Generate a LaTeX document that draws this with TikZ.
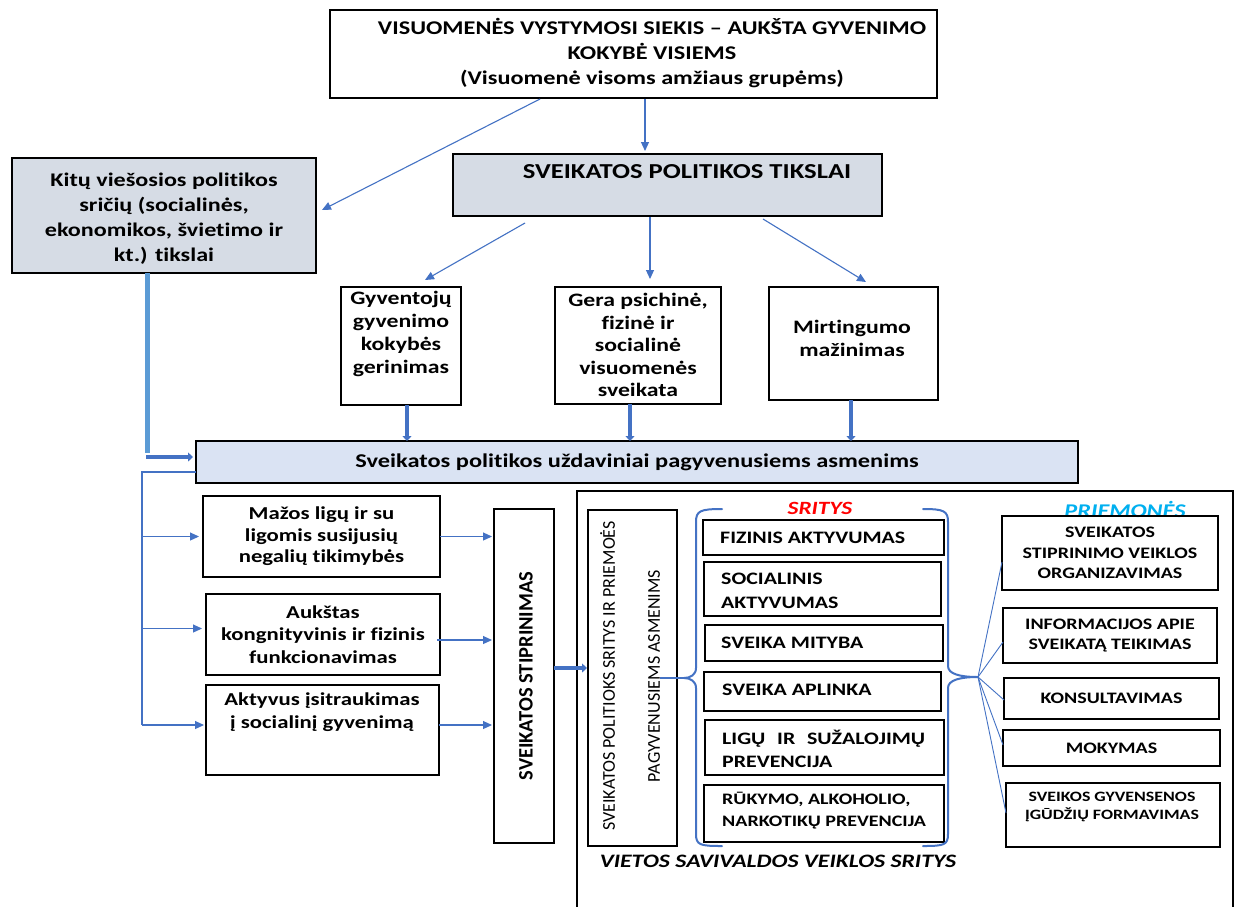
\documentclass[tikz,border=0pt]{standalone}
\usepackage{fontspec}
\setmainfont{Carlito}[Ligatures=NoCommon]
\newfontfamily\wfont{Carlito}[FakeStretch=1.25,Ligatures=NoCommon]
\newfontfamily\nfont{Carlito}[Ligatures=NoCommon]
\usetikzlibrary{arrows.meta}
\definecolor{lineblue}{HTML}{4472C4}
\definecolor{lightline}{HTML}{5B9BD5}
\definecolor{grayfill}{HTML}{D6DCE5}
\definecolor{barfill}{HTML}{DAE3F3}
\definecolor{cyanlabel}{HTML}{00B0F0}
% box given by its corners: [options]{name}{x1}{y1}{x2}{y2}{text}
\newcommand\bx[7][]{\node[box,minimum width={(#5-#3)*1pt},minimum height={(#6-#4)*1pt},#1] (#2) at (#3,#4) {#7};}
\begin{document}
\begin{tikzpicture}[x=1pt,y=-1pt,
  box/.style={draw=black,line width=1.3pt,anchor=north west,inner sep=0pt,outer sep=0pt,align=center},
  tx/.style={align=center,inner sep=0pt},
  fs/.style 2 args={font=\wfont\bfseries\fontsize{#1}{#2}\selectfont},
  thin/.style={draw=lineblue,line width=1.1pt},
  thinarr/.style={thin,-{Triangle[length=9pt,width=8pt]}},
  thickarr/.style={draw=lineblue,line width=4.5pt,-{Triangle[length=5pt,width=9pt]}},
  brace/.style={draw=lineblue,line width=2pt,line cap=round,line join=round}]
\fill[white] (0,0) rectangle (1241,906);
\useasboundingbox (0,0) rectangle (1241,906);

% ---------- top level ----------
\bx[line width=1.5pt]{top}{330}{10}{937}{98}{}
\node[tx,fs={19.4}{25}] (toptxt) at (652,53) {VISUOMENĖS VYSTYMOSI SIEKIS – AUKŠTA GYVENIMO\\KOKYBĖ VISIEMS\\(Visuomenė visoms amžiaus grupėms)};

\bx[fill=grayfill]{kit}{12}{158}{316}{273}{}
\node[tx,fs={19.3}{25}] (kittxt) at (164,219) {Kitų viešosios politikos\\sričių (socialinės,\\ekonomikos, švietimo ir\\kt.) tikslai};

\bx[fill=grayfill]{spt}{453}{154}{882}{216}{}
\node[tx,fs={21.3}{26}] (spttxt) at (687,172) {SVEIKATOS POLITIKOS TIKSLAI};

% ---------- goals ----------
\bx{g1}{341}{287}{461}{405}{}
\node[tx,fs={19}{23}] (g1txt) at (401,334) {Gyventojų\\gyvenimo\\kokybės\\gerinimas};
\bx{g2}{555}{287}{721}{404}{}
\node[tx,fs={19}{22.5}] (g2txt) at (638,345) {Gera psichinė,\\fizinė ir\\socialinė\\visuomenės\\sveikata};
\bx{g3}{769}{287}{938}{400}{}
\node[tx,fs={19}{23}] (g3txt) at (852,338) {Mirtingumo\\mažinimas};

\bx[fill=barfill,fs={19.5}{24}]{bar}{196}{441}{1078}{483}{Sveikatos politikos uždaviniai pagyvenusiems asmenims}

% ---------- tasks ----------
\bx[fs={18.2}{21.5}]{m1}{203}{496}{440}{577}{Mažos ligų ir su\\ligomis susijusių\\negalių tikimybės}
\bx[fs={18.2}{22.5}]{a2}{206}{594}{440}{675}{Aukštas\\kongnityvinis ir fizinis\\funkcionavimas}
\bx{a3}{206}{685}{439}{775}{}
\node[tx,fs={18.2}{23}] (a3txt) at (322,712) {Aktyvus įsitraukimas\\į socialinį gyvenimą};

\bx{ss}{494}{509}{554}{843}{}
\node[tx,rotate=90,font=\nfont\bfseries\fontsize{20.5}{24}\selectfont] (sstxt) at (526,676) {SVEIKATOS STIPRINIMAS};

% ---------- municipal areas ----------
\bx{outer}{577}{491}{1233}{912}{}
\bx{inner}{588}{510}{677}{846}{}
\node[tx,rotate=90,font=\nfont\fontsize{18}{45}\selectfont] (innertxt) at (630,676) {SVEIKATOS POLITIOKS SRITYS IR PRIEMOĖS\\PAGYVENUSIEMS ASMENIMS};

\node[font=\wfont\bfseries\itshape\fontsize{18.7}{22}\selectfont,text=red,inner sep=0pt] (srit) at (820,508) {SRITYS};
\node[font=\wfont\bfseries\itshape\fontsize{19.4}{22}\selectfont,text=cyanlabel,inner sep=0pt] (priem) at (1125,509) {PRIEMONĖS};
\node[font=\wfont\bfseries\itshape\fontsize{19}{22}\selectfont,inner sep=0pt] (viet) at (778,861) {VIETOS SAVIVALDOS VEIKLOS SRITYS};

\bx{s1}{703}{520}{944}{555}{}
\bx{s2}{704}{562}{941}{616}{}
\bx{s3}{705}{625}{943}{661}{}
\bx{s4}{704}{672}{941}{711}{}
\bx{s5}{705}{720}{944}{775}{}
\bx{s6}{704}{785}{944}{842}{}
\node[anchor=west,align=left,inner sep=0pt,fs={17.5}{24}] (s1txt) at (720,538) {FIZINIS AKTYVUMAS};
\node[anchor=west,align=left,inner sep=0pt,fs={17.5}{24}] (s2txt) at (721,591) {SOCIALINIS\\AKTYVUMAS};
\node[anchor=west,align=left,inner sep=0pt,fs={17.5}{24}] (s3txt) at (721,643) {SVEIKA MITYBA};
\node[anchor=west,align=left,inner sep=0pt,fs={17.5}{24}] (s4txt) at (722,690) {SVEIKA APLINKA};
\node[anchor=west,align=left,inner sep=0pt,fs={17.5}{23}] (s5txt) at (722,749) {\makebox[203pt][s]{LIGŲ IR SUŽALOJIMŲ}\\PREVENCIJA};
\node[anchor=west,align=left,inner sep=0pt,fs={16}{22}] (s6txt) at (722,811) {RŪKYMO, ALKOHOLIO,\\NARKOTIKŲ PREVENCIJA};

\bx[fs={16}{20.5}]{p1}{1002}{516}{1218}{590}{SVEIKATOS\\STIPRINIMO VEIKLOS\\ORGANIZAVIMAS}
\bx[fs={16}{20}]{p2}{1003}{608}{1217}{663}{INFORMACIJOS APIE\\SVEIKATĄ TEIKIMAS}
\bx[fs={16}{20}]{p3}{1004}{678}{1219}{719}{KONSULTAVIMAS}
\bx[fs={16}{20}]{p4}{1003}{730}{1220}{766}{MOKYMAS}
\bx{p5}{1006}{783}{1220}{847}{}
\node[tx,fs={14.3}{18.5}] (p5txt) at (1112,807) {SVEIKOS GYVENSENOS\\ĮGŪDŽIŲ FORMAVIMAS};

% ---------- connectors ----------
\draw[thinarr] ([xshift=11.5pt,yshift=-1pt]top.south) -- ([xshift=-22.5pt,yshift=3pt]spt.north);
\draw[thinarr] ([xshift=-93.5pt,yshift=-1pt]top.south) -- ([xshift=6pt,yshift=5.5pt]kit.east);

\draw[thinarr] ([xshift=-142.5pt,yshift=-7pt]spt.south) -- ([xshift=24pt,yshift=7pt]g1.north);
\draw[thinarr] ([xshift=-17.5pt,yshift=-1pt]spt.south) -- ([xshift=12pt,yshift=8pt]g2.north);
\draw[thinarr] ([xshift=95.5pt,yshift=-3pt]spt.south) -- ([xshift=12.5pt,yshift=5pt]g3.north);

\draw[thickarr] ([xshift=6pt]g1.south) -- ([xshift=6pt]g1.south |- bar.north);
\draw[thickarr] ([xshift=-8pt]g2.south) -- ([xshift=-8pt]g2.south |- bar.north);
\draw[thickarr] ([xshift=-2.5pt]g3.south) -- ([xshift=-2.5pt]g3.south |- bar.north);

\coordinate (kfoot) at (147,453);
\coordinate (kstart) at (146,457);
\draw[draw=lightline,line width=5pt] ([xshift=-17pt]kit.south) -- (kfoot);
\draw[thickarr,line width=3.5pt] (kstart) -- ([xshift=-3pt,yshift=5pt]bar.west);

\coordinate (trunk) at (142,725);
\draw[thin] ([yshift=-10pt]bar.west) -| (trunk);
\draw[thinarr] (trunk |- m1.west) -- ([xshift=-4pt]m1.west);
\draw[thinarr] ([yshift=6pt]a2.west -| trunk) -- ([xshift=-4pt,yshift=6pt]a2.west);
\draw[thinarr] ([yshift=5pt]a3.west -| trunk) -- ([xshift=-2pt,yshift=5pt]a3.west);

\draw[thinarr] (m1.east) -- ([xshift=-2pt]m1.east -| ss.west);
\draw[thinarr] ([xshift=-3pt,yshift=-5.5pt]a2.east) -- ([xshift=-2pt,yshift=-5.5pt]a2.east -| ss.west);
\draw[thinarr] ([yshift=5pt]a3.east) -- ([xshift=-2pt,yshift=5pt]a3.east -| ss.west);

\draw[thickarr,line width=4pt] ([yshift=8pt]ss.east) -- ([xshift=-1pt,yshift=8pt]ss.east -| inner.west);

% curly brackets around the areas
\coordinate (ltip) at (684,678);
\coordinate (rtip) at (978,677);
\draw[thin] ([xshift=-17pt]inner.east) -- (ltip);
\draw[brace] (722,509) .. controls (700,509) and (696,511) .. (696,522) -- (696,668)
  .. controls (696,675) and (690,678) .. (ltip) .. controls (690,678) and (696,681) .. (696,688)
  -- (696,834) .. controls (696,845) and (700,846) .. (722,846);
\draw[brace] (923,509) .. controls (944,509) and (948,511) .. (948,522) -- (948,666)
  .. controls (948,674) and (960,677) .. (rtip) .. controls (960,677) and (948,680) .. (948,688)
  -- (948,834) .. controls (948,845) and (944,846) .. (923,846);

\draw[thin,line width=0.9pt] (rtip) -- ([yshift=-9pt]p1.west);
\draw[thin,line width=0.9pt] (rtip) -- ([yshift=-6.5pt]p2.west);
\draw[thin,line width=0.9pt] (rtip) -- ([yshift=-1.5pt]p3.west);
\draw[thin,line width=0.9pt] (rtip) -- ([yshift=3pt]p4.west);
\draw[thin,line width=0.9pt] (rtip) -- ([yshift=2pt]p5.west);
\end{tikzpicture}
\end{document}
